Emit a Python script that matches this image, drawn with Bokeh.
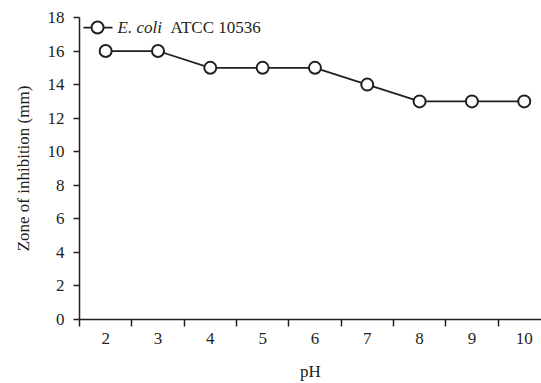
from bokeh.plotting import figure
from bokeh.models import FixedTicker, Range1d, ColumnDataSource
from bokeh.core.properties import value
from bokeh.embed import file_html
from bokeh.resources import INLINE

ph = [2, 3, 4, 5, 6, 7, 8, 9, 10]
zone = [16, 16, 15, 15, 15, 14, 13, 13, 13]
y_ticks = [0, 2, 4, 6, 8, 10, 12, 14, 16, 18]
x_bounds = [1.5, 2.5, 3.5, 4.5, 5.5, 6.5, 7.5, 8.5, 9.5, 10.5]
series_italic = "E. coli"
series_rest = "ATCC 10536"
x_title = "pH"
y_title = "Zone of inhibition (mm)"

FONT = "Liberation Serif"
INK = "#231f20"
FS = "17px"

p = figure(width=541, height=383, output_backend="svg", toolbar_location=None,
           x_range=Range1d(1.5, 10.33), y_range=Range1d(0, 18),
           min_border_left=79, min_border_right=0, min_border_top=17, min_border_bottom=63)
p.outline_line_color = None
p.grid.visible = False
p.background_fill_color = "white"
p.border_fill_color = "white"

# x axis
xa = p.xaxis[0]
xa.ticker = FixedTicker(ticks=ph, minor_ticks=x_bounds)
xa.major_tick_out = 0
xa.major_tick_in = 0
xa.minor_tick_out = 7
xa.minor_tick_in = 0
xa.minor_tick_line_color = INK
xa.minor_tick_line_width = 1.5
xa.axis_line_color = INK
xa.axis_line_width = 1.5
xa.major_label_text_font = FONT
xa.major_label_text_font_size = FS
xa.major_label_text_color = INK
xa.major_label_standoff = 6
xa.axis_label = x_title
xa.axis_label_text_font = FONT
xa.axis_label_text_font_style = "normal"
xa.axis_label_text_font_size = FS
xa.axis_label_text_color = INK
xa.axis_label_standoff = 15

# y axis
ya = p.yaxis[0]
ya.ticker = FixedTicker(ticks=y_ticks)
ya.major_tick_out = 6
ya.major_tick_in = 0
ya.minor_tick_out = 0
ya.minor_tick_in = 0
ya.major_tick_line_color = INK
ya.major_tick_line_width = 1.5
ya.axis_line_color = INK
ya.axis_line_width = 1.5
ya.major_label_text_font = FONT
ya.major_label_text_font_size = FS
ya.major_label_text_color = INK
ya.major_label_standoff = 9
ya.axis_label = y_title
ya.axis_label_text_font = FONT
ya.axis_label_text_font_style = "normal"
ya.axis_label_text_font_size = FS
ya.axis_label_text_color = INK
ya.axis_label_standoff = 12

src = ColumnDataSource(dict(x=ph, y=zone))
p.line("x", "y", source=src, line_color=INK, line_width=1.7)
p.scatter("x", "y", source=src, size=12, marker="circle", fill_color="white",
          line_color=INK, line_width=2)

# manual legend (mixed italic / roman text)
ly = 17.4
p.line(x=[1.576, 2.13], y=[ly, ly], line_color=INK, line_width=1.7)
p.scatter(x=[1.845], y=[ly], size=12, marker="circle", fill_color="white",
          line_color=INK, line_width=2)
p.text(x=[2.227], y=[ly], text=[series_italic], text_font=value(FONT),
       text_font_style="italic", text_font_size=FS, text_color=INK,
       text_baseline="middle", text_align="left")
p.text(x=[3.24], y=[ly], text=[series_rest], text_font=value(FONT),
       text_font_style="normal", text_font_size=FS, text_color=INK,
       text_baseline="middle", text_align="left")

open("out.html", "w").write(file_html(p, INLINE))
